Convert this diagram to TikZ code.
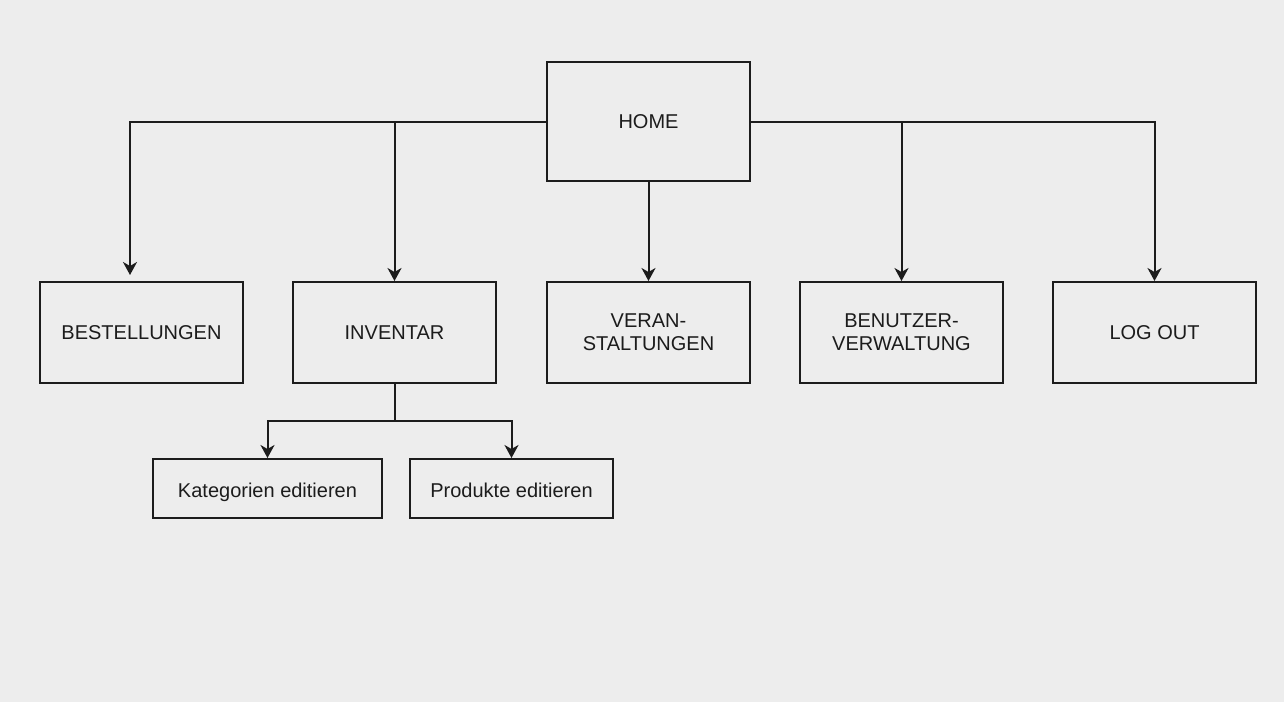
\documentclass[tikz,border=0pt]{standalone}
\usepackage{fontspec}
\setmainfont{Liberation Sans}
\usetikzlibrary{arrows.meta,positioning}
\definecolor{bgcol}{HTML}{EDEDED}
\definecolor{inkcol}{HTML}{1C1C1C}

\begin{document}
\begin{tikzpicture}[
  x=0.5pt, y=-0.5pt,
  font=\fontsize{10pt}{11.5pt}\selectfont,
  >={Stealth[length=6.5pt, width=7pt, inset=2pt]},
  page/.style={draw=inkcol, line width=1pt, fill=bgcol, text=inkcol, minimum width=101.5pt, minimum height=50.5pt, align=center, inner sep=2pt},
  home/.style={page, minimum height=59.5pt},
  subpage/.style={draw=inkcol, line width=1pt, fill=bgcol, text=inkcol, minimum height=29.5pt, text height=10pt, text depth=1pt, align=center, inner sep=2pt},
  arr/.style={->, draw=inkcol, line width=1pt}
]
\fill[bgcol] (0,0) rectangle (1284,702);
\useasboundingbox (0,0) rectangle (1284,702);

%% ============ Top: start page ============
\node[home] (home) at (648.5,121.5) {HOME};

%% ============ Row 1: main sections (y = 332.5) ============
\node[page] (orders)  at (141.5,332.5)  {BESTELLUNGEN};
\node[page] (stock)   at (394.5,332.5)  {INVENTAR};
\node[page] (events)  at (648.5,332.5)  {VERAN-\\STALTUNGEN};
\node[page] (users)   at (901.5,332.5)  {BENUTZER-\\VERWALTUNG};
\node[page] (logout)  at (1154.5,332.5) {LOG OUT};

%% orders arrow stops short of its box, as drawn
\coordinate (ordersin) at (130,275);

\draw[arr] (home.west) -| (ordersin);
\draw[arr] (home.west) -| (stock.north);
\draw[arr] (home.south) -- (events.north);
\draw[arr] (home.east) -| (users.north);
\draw[arr] (home.east) -| (logout.north);

%% ============ Row 2: inventory sub pages (y = 488.5) ============
\node[subpage, minimum width=114.5pt] (categories) at (267.5,488.5) {Kategorien editieren};
\node[subpage, minimum width=101.5pt] (products)   at (511.5,488.5) {Produkte editieren};

\coordinate (split) at (394.5,421);
\draw[inkcol, line width=1pt] (stock.south) -- (split);
\draw[arr] (split) -| (categories.north);
\draw[arr] (split) -| (products.north);

\end{tikzpicture}
\end{document}
